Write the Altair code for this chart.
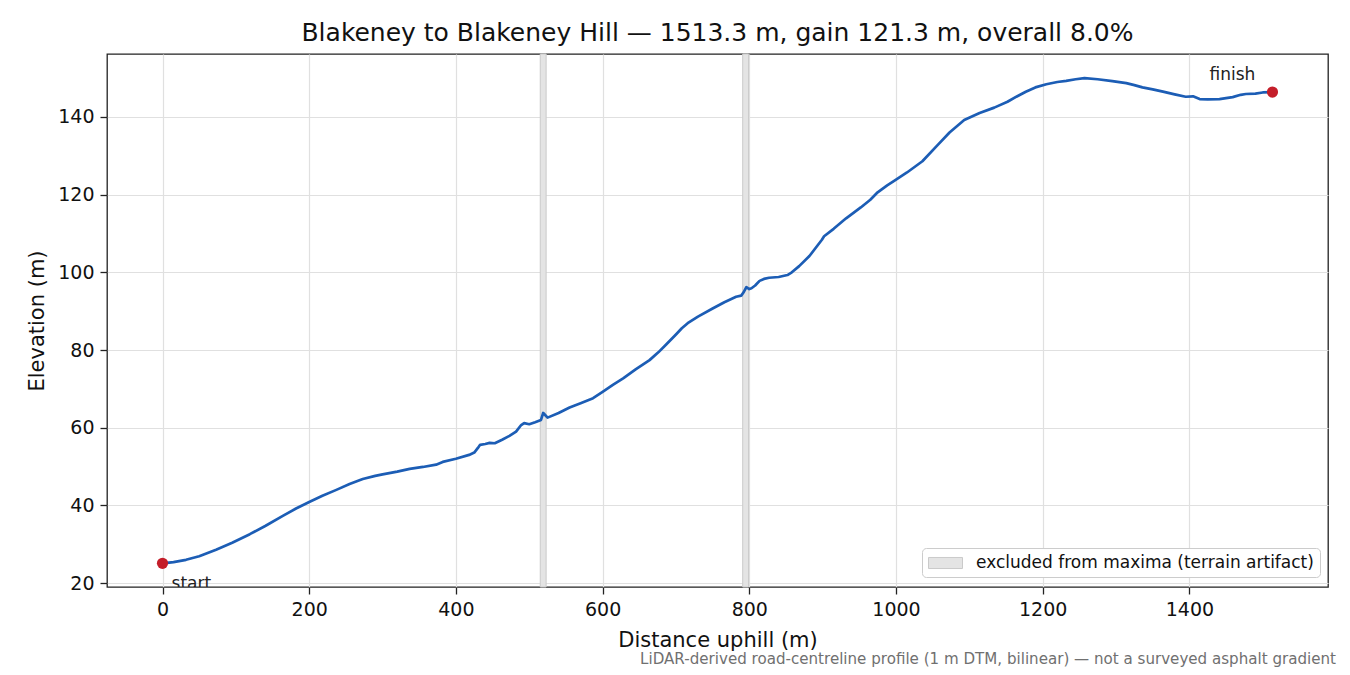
import altair as alt
import pandas as pd

# ---- data ----
dist = [0, 15, 32, 50, 73, 95, 119, 140, 164, 182, 200, 218, 237, 255, 273, 290,
        300, 320, 337, 355, 373, 382, 400, 418, 425, 430, 433, 440, 446, 453, 463,
        473, 482, 489, 493, 500, 508, 516, 519, 521, 525, 540, 555, 570, 587, 600,
        614, 628, 645, 664, 676, 687, 700, 708, 716, 730, 750, 766, 782, 789, 792,
        796, 800, 803, 808, 814, 820, 827, 840, 852, 858, 868, 882, 899, 902, 915,
        932, 952, 965, 975, 988, 998, 1015, 1036, 1057, 1073, 1093, 1114, 1134,
        1152, 1166, 1177, 1190, 1205, 1220, 1232, 1245, 1257, 1275, 1295, 1314,
        1325, 1336, 1350, 1364, 1380, 1395, 1405, 1414, 1425, 1441, 1459, 1470,
        1477, 1490, 1500, 1513.3]
elev = [25.1, 25.4, 26.0, 26.9, 28.6, 30.4, 32.6, 34.7, 37.3, 39.2, 40.9, 42.5,
        44.0, 45.5, 46.8, 47.6, 48.0, 48.7, 49.4, 49.9, 50.5, 51.2, 52.0, 53.0,
        53.6, 54.8, 55.6, 55.8, 56.1, 56.0, 56.9, 57.9, 59.0, 60.7, 61.2, 60.9,
        61.4, 62.0, 63.8, 63.4, 62.6, 63.8, 65.2, 66.3, 67.6, 69.2, 71.0, 72.7,
        75.0, 77.4, 79.4, 81.5, 84.0, 85.6, 86.9, 88.6, 90.7, 92.3, 93.7, 94.0,
        94.8, 96.2, 95.7, 95.9, 96.6, 97.8, 98.3, 98.6, 98.8, 99.3, 100.0, 101.6,
        104.2, 108.4, 109.3, 111.2, 113.9, 116.7, 118.7, 120.6, 122.4, 123.6,
        125.7, 128.6, 132.8, 136.0, 139.2, 141.0, 142.4, 143.9, 145.4, 146.5,
        147.6, 148.4, 149.0, 149.3, 149.7, 150.0, 149.7, 149.2, 148.7, 148.2,
        147.6, 147.1, 146.5, 145.8, 145.2, 145.3, 144.6, 144.5, 144.6, 145.1,
        145.7, 145.9, 146.0, 146.3, 146.4]

band_start = [515, 791]
band_end = [523, 799]
band_label = "excluded from maxima (terrain artifact)"

end_dist = [0, 1513.3]
end_elev = [25.1, 146.4]
end_label = ["start", "finish"]

x_ticks = [0, 200, 400, 600, 800, 1000, 1200, 1400]
y_ticks = [20, 40, 60, 80, 100, 120, 140]

title_text = "Blakeney to Blakeney Hill \u2014 1513.3 m, gain 121.3 m, overall 8.0%"
note_text = ("LiDAR-derived road-centreline profile (1 m DTM, bilinear) \u2014 "
             "not a surveyed asphalt gradient")

profile = pd.DataFrame({"d": dist, "e": elev})
bands = pd.DataFrame({"x0": band_start, "x1": band_end,
                      "kind": [band_label] * len(band_start)})
ends = pd.DataFrame({"d": end_dist, "e": end_elev, "label": end_label})
note = pd.DataFrame({"t": [note_text]})

FONT = "DejaVu Sans"
xscale = alt.Scale(domain=[-75.7, 1589.0], nice=False, zero=False)
yscale = alt.Scale(domain=[19.0, 156.2], nice=False, zero=False)
xaxis = alt.Axis(values=x_ticks, title="Distance uphill (m)", format="d")
yaxis = alt.Axis(values=y_ticks, title="Elevation (m)", format="d")


def X(field):
    return alt.X(field, type="quantitative", scale=xscale, axis=xaxis)


def Y(field):
    return alt.Y(field, type="quantitative", scale=yscale, axis=yaxis)


band = alt.Chart(bands).mark_rect(stroke="#cacaca", strokeWidth=1).encode(
    x=X("x0"),
    x2="x1",
    fill=alt.Fill("kind:N", scale=alt.Scale(range=["#e4e4e4"]),
                  legend=alt.Legend(title=None)),
)

line = alt.Chart(profile).mark_line(color="#1c5db5", strokeWidth=2.7,
                                    strokeJoin="round").encode(
    x=X("d"), y=Y("e"))

dots = alt.Chart(ends).mark_circle(color="#c41e2a", size=125, opacity=1).encode(
    x=X("d"), y=Y("e"))

start_txt = alt.Chart(ends).transform_filter(alt.datum.label == "start").mark_text(
    align="left", baseline="alphabetic", dx=9, dy=26, fontSize=17, font=FONT,
    color="#222", clip=True).encode(x=X("d"), y=Y("e"), text="label:N")

finish_txt = alt.Chart(ends).transform_filter(alt.datum.label == "finish").mark_text(
    align="center", baseline="alphabetic", dx=-40, dy=-12, fontSize=17, font=FONT,
    color="#222").encode(x=X("d"), y=Y("e"), text="label:N")

note_txt = alt.Chart(note).mark_text(
    align="right", baseline="alphabetic", fontSize=15.1, font=FONT,
    color="#707070").encode(x=alt.value(1229), y=alt.value(610), text="t:N")

chart = alt.layer(band, line, dots, start_txt, finish_txt, note_txt).properties(
    width=1221,
    height=533,
    title=alt.TitleParams(title_text),
    padding={"left": 99, "top": 46, "right": 14, "bottom": 80},
    autosize=alt.AutoSizeParams(type="none"),
).configure_view(
    stroke="#222", strokeWidth=1.3
).configure_axis(
    grid=True, gridColor="#e0e0e0", gridWidth=1.2,
    domain=False,
    tickColor="#222", tickSize=7, tickWidth=1.3,
    labelFont=FONT, labelFontSize=19, labelColor="#111", labelPadding=6,
    titleFont=FONT, titleFontSize=21, titleFontWeight="normal", titleColor="#111",
    titlePadding=10,
).configure_title(
    font=FONT, fontSize=25, fontWeight="normal", color="#111", anchor="middle",
    baseline="alphabetic", offset=8,
).configure_legend(
    orient="none", legendX=815, legendY=494, padding=6,
    strokeColor="#cccccc", fillColor="white", cornerRadius=4,
    labelFont=FONT, labelFontSize=17, labelColor="#111", labelLimit=0,
    labelOffset=21.5, symbolOffset=8.5,
    symbolType="M-2,-0.65H2V0.65H-2Z", symbolSize=289,
    symbolStrokeColor="#cacaca", symbolStrokeWidth=1, symbolOpacity=1,
)

chart.save("out.html", embed_options={"renderer": "svg", "actions": False})
